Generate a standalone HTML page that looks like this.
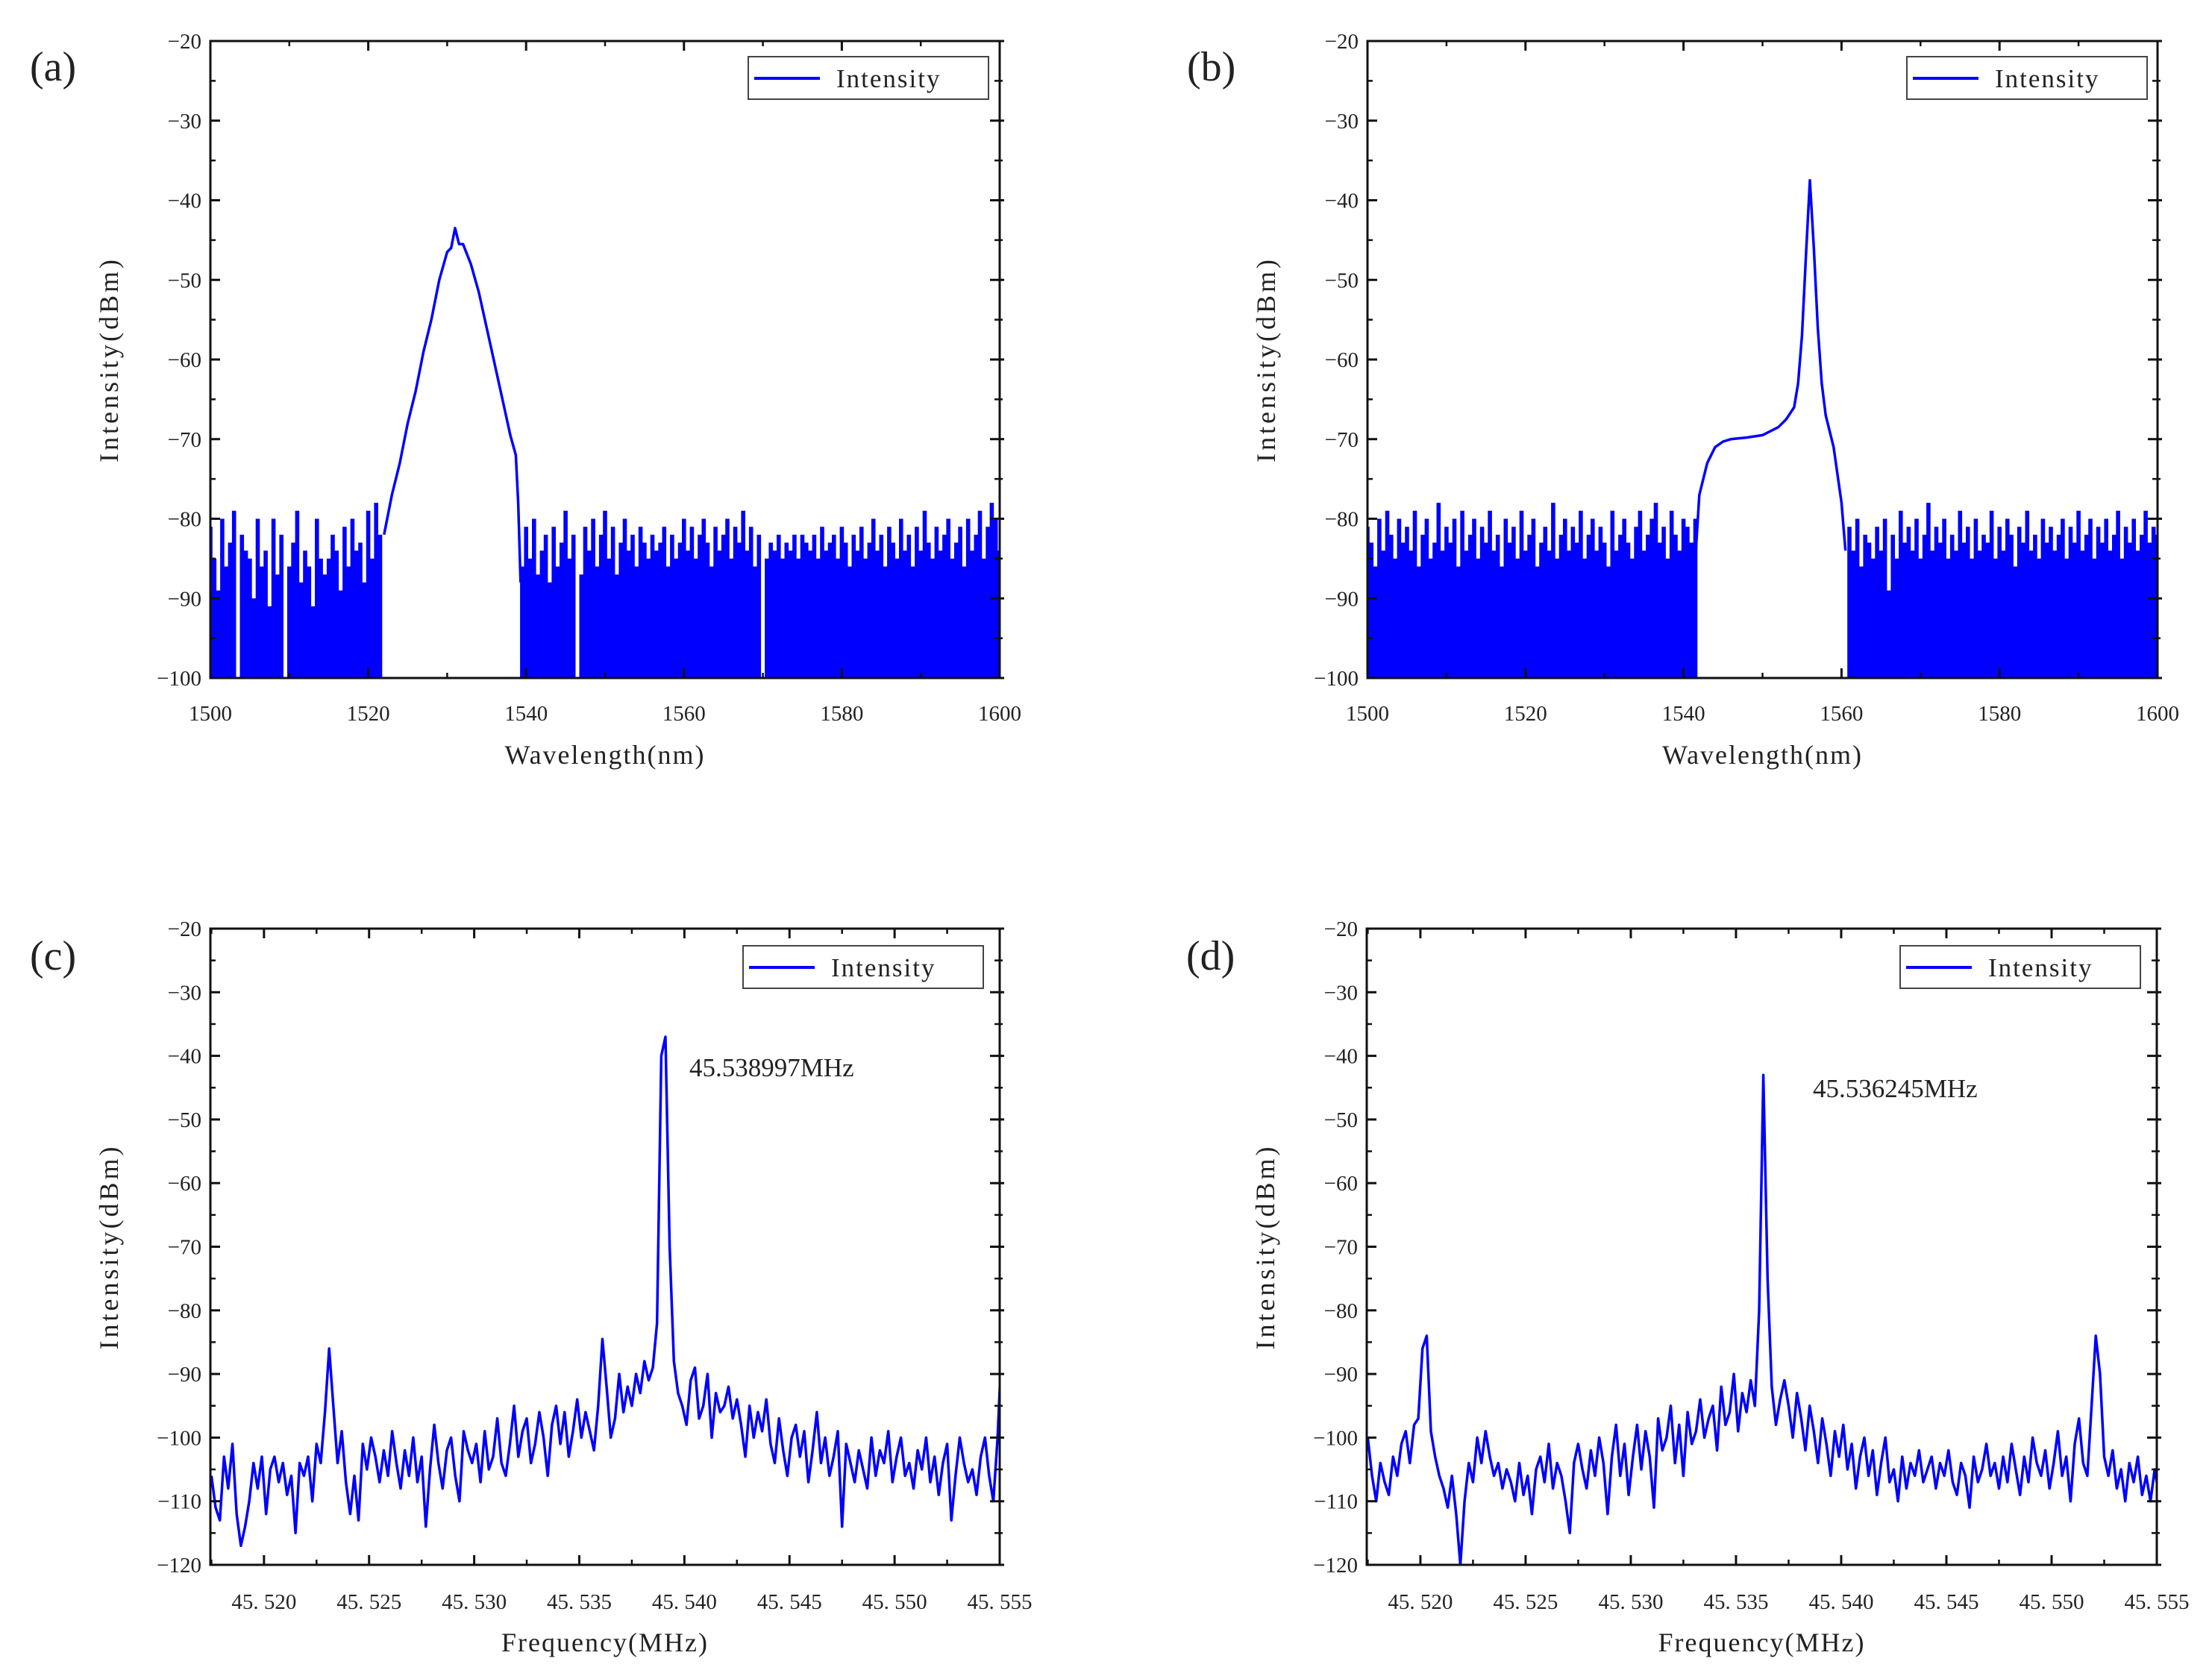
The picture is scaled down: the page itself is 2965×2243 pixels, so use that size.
<!DOCTYPE html>
<html><head><meta charset="utf-8">
<style>
html,body{margin:0;padding:0;background:#fff;}
svg{display:block;}
text{font-family:"Liberation Serif","Noto Serif CJK SC",serif;fill:#222;}
</style></head>
<body>
<svg id="fig" width="2965" height="2243" viewBox="0 0 2965 2243" xmlns="http://www.w3.org/2000/svg"></svg>
<script>
// ---------- data ----------
// panel (a)
const aNoiseLeftStart = 1500, aNoiseStep = 0.5;
const aNoiseLeft = [-81,-85,-89,-80,-86,-83,-79,-100,-82,-84,-85,-90,-80,-86,-84,-91,-80,-87,-82,-100,-86,-83,-79,-88,-84,-86,-91,-80,-85,-87,-85,-82,-84,-89,-81,-86,-80,-84,-83,-88,-79,-85,-78,-82];
const aPeakX = [1522,1523,1524,1525,1526,1527,1528,1529,1530,1530.5,1531,1531.5,1532,1533,1534,1535,1536,1537,1538,1538.7,1539,1539.3];
const aPeakY = [-82,-77,-73,-68,-64,-59,-55,-50,-46.5,-46,-43.5,-45.5,-45.5,-48,-51.5,-56,-60.5,-65,-69.5,-72,-78,-88];
const aNoiseRightStart = 1539.5;
const aNoiseRight = [-86,-81,-85,-80,-87,-84,-82,-88,-81,-86,-83,-79,-85,-82,-100,-87,-81,-84,-80,-86,-82,-79,-85,-81,-87,-83,-80,-84,-82,-86,-81,-83,-85,-82,-84,-83,-81,-86,-82,-85,-83,-80,-84,-81,-85,-82,-80,-83,-86,-81,-84,-82,-80,-85,-81,-83,-79,-84,-81,-86,-82,-100,-85,-83,-84,-82,-85,-83,-84,-82,-85,-82,-83,-84,-82,-85,-81,-84,-83,-82,-85,-81,-83,-86,-82,-84,-81,-85,-83,-80,-84,-82,-86,-81,-83,-85,-80,-84,-82,-86,-81,-84,-79,-83,-85,-81,-84,-82,-80,-85,-83,-81,-86,-80,-84,-82,-79,-85,-81,-78,-80,-84];
// panel (b)
const bNoiseLeftStart = 1500, bNoiseStep = 0.5;
const bNoiseLeft = [-81,-83,-86,-80,-84,-79,-82,-85,-80,-83,-81,-84,-79,-86,-82,-80,-85,-83,-78,-84,-81,-83,-80,-86,-79,-84,-82,-80,-85,-81,-83,-79,-84,-82,-86,-80,-83,-81,-85,-79,-84,-82,-80,-86,-83,-81,-84,-78,-85,-82,-80,-84,-81,-83,-79,-85,-82,-80,-84,-81,-83,-86,-79,-84,-82,-80,-83,-85,-81,-79,-84,-82,-80,-78,-83,-81,-85,-79,-82,-84,-80,-81,-83,-80];
const bPeakX = [1541.5,1542,1543,1544,1545,1546,1548,1550,1552,1553,1554,1554.5,1555,1555.5,1556,1556.5,1557,1557.5,1558,1559,1559.5,1560,1560.5];
const bPeakY = [-85,-77,-73,-71,-70.3,-70,-69.8,-69.5,-68.5,-67.5,-66,-63,-57,-47,-37.5,-46,-56,-63,-67,-71,-74.5,-78,-84];
const bNoiseRightStart = 1561;
const bNoiseRight = [-81,-84,-80,-86,-82,-83,-85,-81,-84,-80,-89,-82,-85,-79,-83,-81,-84,-80,-85,-82,-78,-84,-81,-83,-80,-85,-82,-84,-79,-83,-81,-85,-80,-84,-82,-83,-79,-85,-81,-84,-80,-82,-86,-81,-83,-79,-84,-82,-85,-80,-83,-81,-84,-82,-80,-85,-81,-83,-79,-84,-82,-80,-85,-81,-83,-80,-84,-82,-79,-85,-81,-83,-80,-84,-82,-79,-83,-81,-82];
// panel (c)
const cStart = 45.5175, cStep = 0.0002;
const cValues = [-106,-111,-113,-103,-108,-101,-112,-117,-114,-110,
-104,-108,-103,-112,-105,-103,-107,-104,-109,-106,
-115,-104,-106,-103,-110,-101,-104,-96,-86,-95,
-104,-99,-107,-112,-106,-113,-101,-105,-100,-103,
-107,-102,-106,-99,-104,-108,-102,-106,-100,-107,
-103,-114,-105,-98,-104,-108,-102,-100,-106,-110,
-99,-102,-104,-101,-107,-99,-105,-103,-97,-104,
-106,-101,-95,-103,-99,-97,-104,-101,-96,-100,
-106,-98,-95,-101,-96,-103,-99,-94,-100,-96,
-99,-102,-95,-84.5,-92,-100,-97,-90,-96,-92,
-95,-90,-93,-88,-91,-89,-82,-40,-37,-70,
-88,-93,-95,-98,-91,-89,-97,-95,-90,-100,
-93,-96,-95,-92,-97,-94,-98,-103,-95,-100,
-96,-99,-94,-101,-104,-97,-102,-106,-100,-98,
-103,-99,-107,-102,-96,-104,-100,-106,-103,-99,
-114,-101,-104,-107,-102,-105,-108,-100,-106,-102,
-104,-99,-107,-103,-100,-106,-104,-108,-102,-105,
-100,-107,-103,-109,-104,-101,-113,-106,-100,-104,
-107,-105,-109,-103,-100,-106,-110,-100,-85];
// panel (d)
const dStart = 45.5175, dStep = 0.0002;
const dValues = [-100,-106,-110,-104,-107,-109,-103,-106,-101,-99,
-104,-98,-97,-86,-84,-99,-103,-106,-108,-111,
-106,-112,-120,-110,-104,-107,-100,-104,-99,-103,
-106,-104,-108,-105,-107,-110,-104,-109,-106,-112,
-105,-103,-107,-101,-108,-104,-106,-110,-115,-104,
-101,-105,-108,-102,-106,-100,-104,-112,-103,-98,
-106,-101,-109,-103,-98,-105,-99,-103,-111,-97,
-102,-100,-95,-104,-98,-106,-96,-101,-99,-94,
-100,-97,-95,-102,-92,-98,-96,-90,-99,-93,
-96,-91,-95,-80,-43,-75,-92,-98,-94,-91,
-95,-100,-93,-97,-102,-95,-99,-104,-97,-101,
-106,-99,-103,-98,-105,-101,-108,-103,-100,-106,
-102,-109,-104,-100,-107,-105,-110,-103,-108,-104,
-106,-102,-107,-105,-103,-108,-104,-106,-102,-107,
-109,-104,-106,-111,-103,-107,-105,-101,-106,-104,
-108,-103,-107,-101,-105,-109,-103,-107,-100,-104,
-106,-102,-108,-104,-99,-106,-103,-110,-101,-97,
-104,-106,-95,-84,-90,-103,-106,-102,-108,-105,
-110,-104,-107,-103,-109,-106,-110,-105,-109];
// tick labels
const wlTicks = [1500,1520,1540,1560,1580,1600];
const wlYTicks = [-20,-30,-40,-50,-60,-70,-80,-90,-100];
const fTicks = [45.520,45.525,45.530,45.535,45.540,45.545,45.550,45.555];
const fYTicks = [-20,-30,-40,-50,-60,-70,-80,-90,-100,-110,-120];
const cAnnotation = "45.538997MHz";
const dAnnotation = "45.536245MHz";

// ---------- drawing ----------
const NS = "http://www.w3.org/2000/svg";
const svg = document.getElementById('fig');
function mk(tag, attrs, parent) {
  const e = document.createElementNS(NS, tag);
  for (const k in attrs) e.setAttribute(k, attrs[k]);
  (parent || svg).appendChild(e);
  return e;
}
function makeAxes(x0, x1, y0, y1, xmin, xmax, ymin, ymax) {
  return {
    x: v => x0 + (v - xmin) / (xmax - xmin) * (x1 - x0),
    y: v => y1 - (v - ymin) / (ymax - ymin) * (y1 - y0)
  };
}
function drawFrame(g, name, P, ax, xTicks, xMinor, xFmt, yTicks, yMinor, xTitle, letter, legend, labelBase, titleBase) {
  const frame = mk('rect', {x: P.x0, y: P.y0, width: P.x1 - P.x0, height: P.y1 - P.y0, fill: 'none', stroke: '#111', 'stroke-width': 3}, g);
  
  
  yTicks.forEach(v => {
    const y = ax.y(v);
    mk('line', {x1: P.x0, x2: P.x0 + 13, y1: y, y2: y, stroke: '#111', 'stroke-width': 3}, g);
    mk('line', {x1: P.x1 - 13, x2: P.x1 + 6, y1: y, y2: y, stroke: '#111', 'stroke-width': 3}, g);
    const t = mk('text', {x: P.x0 - 12, y: y + 10, 'text-anchor': 'end', 'font-size': 29}, g);
    t.textContent = '\u2212' + Math.abs(v);
    
    
  });
  yMinor.forEach(v => {
    const y = ax.y(v);
    mk('line', {x1: P.x0, x2: P.x0 + 7, y1: y, y2: y, stroke: '#111', 'stroke-width': 2.5}, g);
    mk('line', {x1: P.x1 - 7, x2: P.x1 + 4, y1: y, y2: y, stroke: '#111', 'stroke-width': 2.5}, g);
  });
  xTicks.forEach(v => {
    const x = ax.x(v);
    mk('line', {x1: x, x2: x, y1: P.y1, y2: P.y1 - 13, stroke: '#111', 'stroke-width': 3}, g);
    mk('line', {x1: x, x2: x, y1: P.y0, y2: P.y0 + 13, stroke: '#111', 'stroke-width': 3}, g);
    const t = mk('text', {x: x, y: labelBase, 'text-anchor': 'middle', 'font-size': 29}, g);
    t.textContent = xFmt(v);
    
    
  });
  xMinor.forEach(v => {
    const x = ax.x(v);
    mk('line', {x1: x, x2: x, y1: P.y1, y2: P.y1 - 7, stroke: '#111', 'stroke-width': 2.5}, g);
    mk('line', {x1: x, x2: x, y1: P.y0, y2: P.y0 + 7, stroke: '#111', 'stroke-width': 2.5}, g);
  });
  const xt = mk('text', {x: (P.x0 + P.x1) / 2, y: titleBase, 'text-anchor': 'middle', 'font-size': 36, 'letter-spacing': 2}, g);
  xt.textContent = xTitle;
  
  
  const cy = (P.y0 + P.y1) / 2, cx = P.x0 - 124;
  const yt = mk('text', {x: cx, y: cy, 'text-anchor': 'middle', 'font-size': 36, 'letter-spacing': 4, transform: 'rotate(-90 ' + cx + ' ' + cy + ')'}, g);
  yt.textContent = 'Intensity(dBm)';
  
  
  const lt = mk('text', {x: P.x0 - 242, y: letter.y, 'font-size': 56}, g);
  lt.textContent = letter.t;
  
  
  const lg = mk('g', {}, g);
  
  
  mk('rect', {x: legend.x, y: legend.y, width: 322, height: 57, fill: '#fff', stroke: '#444', 'stroke-width': 2}, lg);
  mk('line', {x1: legend.x + 8, x2: legend.x + 96, y1: legend.y + 29, y2: legend.y + 29, stroke: '#0000ff', 'stroke-width': 4}, lg);
  const ltx = mk('text', {x: legend.x + 118, y: legend.y + 41, 'font-size': 35, 'letter-spacing': 2}, lg);
  ltx.textContent = 'Intensity';
}
function stems(g, name, ax, start, step, vals, floor) {
  let d = '';
  vals.forEach((v, i) => {
    const x = ax.x(start + i * step);
    d += 'M' + x.toFixed(1) + ',' + ax.y(floor).toFixed(1) + 'V' + ax.y(v).toFixed(1);
  });
  const p = mk('path', {d: d, stroke: '#0000ff', 'stroke-width': 5.6, fill: 'none'}, g);
  
  
}
function lineXY(g, name, ax, xs, ys, w) {
  const pts = xs.map((x, i) => ax.x(x).toFixed(1) + ',' + ax.y(ys[i]).toFixed(1)).join(' ');
  const p = mk('polyline', {points: pts, stroke: '#0000ff', 'stroke-width': w, fill: 'none', 'stroke-linejoin': 'round'}, g);
  
  
}

const wlMinorX = [1510,1530,1550,1570,1590];
const wlMinorY = [-25,-35,-45,-55,-65,-75,-85,-95];
const fMinorX = [45.5175,45.5225,45.5275,45.5325,45.5375,45.5425,45.5475,45.5525];
const fMinorY = [-25,-35,-45,-55,-65,-75,-85,-95,-105,-115];
const wlFmt = v => String(v);
const fFmt = v => v.toFixed(3).replace('.', '. ');

// Panel a
(function(){
  const P = {x0: 282, x1: 1340, y0: 55, y1: 909};
  const ax = makeAxes(P.x0, P.x1, P.y0, P.y1, 1500, 1600, -100, -20);
  const g = mk('g', {});
  
  
  const clip = mk('clipPath', {id: 'ca'}, g); mk('rect', {x: P.x0, y: P.y0, width: P.x1 - P.x0, height: P.y1 - P.y0}, clip);
  const dg = mk('g', {'clip-path': 'url(#ca)'}, g);
  stems(dg, 'series-a-noise-left', ax, aNoiseLeftStart, aNoiseStep, aNoiseLeft, -100);
  lineXY(dg, 'series-a-peak', ax, aPeakX, aPeakY, 3.5);
  stems(dg, 'series-a-noise-right', ax, aNoiseRightStart, aNoiseStep, aNoiseRight, -100);
  drawFrame(g, 'panel-a', P, ax, wlTicks, wlMinorX, wlFmt, wlYTicks, wlMinorY, 'Wavelength(nm)', {t: '(a)', y: 108}, {x: 1003, y: 76}, 966, 1024);
})();
// Panel b
(function(){
  const P = {x0: 1833, x1: 2892, y0: 55, y1: 909};
  const ax = makeAxes(P.x0, P.x1, P.y0, P.y1, 1500, 1600, -100, -20);
  const g = mk('g', {});
  
  
  const clip = mk('clipPath', {id: 'cb'}, g); mk('rect', {x: P.x0, y: P.y0, width: P.x1 - P.x0, height: P.y1 - P.y0}, clip);
  const dg = mk('g', {'clip-path': 'url(#cb)'}, g);
  stems(dg, 'series-b-noise-left', ax, bNoiseLeftStart, bNoiseStep, bNoiseLeft, -100);
  lineXY(dg, 'series-b-peak', ax, bPeakX, bPeakY, 3.5);
  stems(dg, 'series-b-noise-right', ax, bNoiseRightStart, bNoiseStep, bNoiseRight, -100);
  drawFrame(g, 'panel-b', P, ax, wlTicks, wlMinorX, wlFmt, wlYTicks, wlMinorY, 'Wavelength(nm)', {t: '(b)', y: 108}, {x: 2556, y: 76}, 966, 1024);
})();
// Panel c
(function(){
  const P = {x0: 282, x1: 1340, y0: 1245, y1: 2098};
  const ax = makeAxes(P.x0, P.x1, P.y0, P.y1, 45.51745, 45.555, -120, -20);
  const g = mk('g', {});
  
  
  const clip = mk('clipPath', {id: 'cc'}, g); mk('rect', {x: P.x0, y: P.y0, width: P.x1 - P.x0, height: P.y1 - P.y0}, clip);
  const dg = mk('g', {'clip-path': 'url(#cc)'}, g);
  const xs = cValues.map((v, i) => cStart + i * cStep);
  lineXY(dg, 'series-c-spectrum', ax, xs, cValues, 3.5);
  drawFrame(g, 'panel-c', P, ax, fTicks, fMinorX, fFmt, fYTicks, fMinorY, 'Frequency(MHz)', {t: '(c)', y: 1300}, {x: 996, y: 1268}, 2157, 2214);
  const an = mk('text', {x: 924, y: 1443, 'font-size': 35}, g);
  an.textContent = cAnnotation;
  
  
})();
// Panel d
(function(){
  const P = {x0: 1832, x1: 2891, y0: 1245, y1: 2098};
  const ax = makeAxes(P.x0, P.x1, P.y0, P.y1, 45.51745, 45.555, -120, -20);
  const g = mk('g', {});
  
  
  const clip = mk('clipPath', {id: 'cd'}, g); mk('rect', {x: P.x0, y: P.y0, width: P.x1 - P.x0, height: P.y1 - P.y0}, clip);
  const dg = mk('g', {'clip-path': 'url(#cd)'}, g);
  const xs = dValues.map((v, i) => dStart + i * dStep);
  lineXY(dg, 'series-d-spectrum', ax, xs, dValues, 3.5);
  drawFrame(g, 'panel-d', P, ax, fTicks, fMinorX, fFmt, fYTicks, fMinorY, 'Frequency(MHz)', {t: '(d)', y: 1300}, {x: 2547, y: 1268}, 2157, 2214);
  const an = mk('text', {x: 2430, y: 1471, 'font-size': 35}, g);
  an.textContent = dAnnotation;
  
  
})();
</script>
</body></html>
